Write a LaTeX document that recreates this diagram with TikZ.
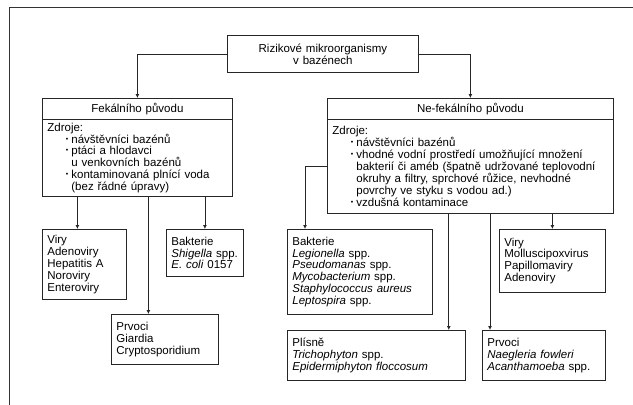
\documentclass[tikz,border=0pt]{standalone}
\usepackage{fontspec}
\setmainfont{Liberation Sans}
\usetikzlibrary{arrows.meta}

\newcommand{\bod}{\makebox[24pt][l]{\hspace{18.5pt}\raisebox{2pt}{\fontsize{7}{7}\selectfont •}}}
\newcommand{\dal}{\hspace*{24pt}}

\begin{document}
\begin{tikzpicture}[x=1pt, y=-1pt,
        font=\fontsize{11.5}{11.9}\selectfont,
        box/.style={draw=black!85, line width=0.8pt, anchor=north west,
                    align=left, inner xsep=5pt, inner ysep=0pt},
        arr/.style={draw=black!85, line width=0.8pt, -{Latex[length=4pt,width=4pt]}}]
        \useasboundingbox (0,0) rectangle (633,405);
        \draw[line width=1.5pt, black!80] (9.5,405) |- (633,7.5);

        % horni uroven
        \node[box, align=center, text width=181pt, minimum height=37pt] (rizika) at (227,35)
            {Rizikové mikroorganismy\\v bazénech};

        \node[box, align=center, text width=180pt, minimum height=21pt] (fekhlava) at (42,98)
            {Fekálního původu};
        \node[box, text width=180pt, minimum height=77pt] (fektelo) at (42,119)
            {Zdroje:\\
             \bod návštěvníci bazénů\\
             \bod ptáci a hlodavci\\
             \dal u venkovních bazénů\\
             \bod kontaminovaná plnící voda\\
             \dal (bez řádné úpravy)};

        \node[box, align=center, text width=276pt, minimum height=21pt] (nefekhlava) at (327,98)
            {Ne-fekálního původu};
        \node[box, text width=276pt, minimum height=94pt] (nefektelo) at (327,119)
            {Zdroje:\\
             \bod návštěvníci bazénů\\
             \bod vhodné vodní prostředí umožňující množení\\
             \dal bakterií či améb (špatně udržované teplovodní\\
             \dal okruhy a filtry, sprchové růžice, nevhodné\\
             \dal povrchy ve styku s vodou ad.)\\
             \bod vzdušná kontaminace};

        % fekalni
        \node[box, text width=74pt, minimum height=70pt] (viryL) at (42,229)
            {Viry\\Adenoviry\\Hepatitis A\\Noroviry\\Enteroviry};
        \node[box, text width=67pt, minimum height=47pt] (bakL) at (166,229)
            {Bakterie\\\textit{Shigella} spp.\\\textit{E. coli} 0157};
        \node[box, text width=97pt, minimum height=50pt] (prvociL) at (111,314)
            {Prvoci\\Giardia\\Cryptosporidium};

        % nefekalni
        \node[box, text width=135pt, minimum height=85pt] (bakR) at (287,229)
            {Bakterie\\\textit{Legionella} spp.\\\textit{Pseudomanas} spp.\\
             \textit{Mycobacterium} spp.\\\textit{Staphylococcus aureus}\\\textit{Leptospira} spp.};
        \node[box, text width=96pt, minimum height=63pt] (viryR) at (499,229)
            {Viry\\Molluscipoxvirus\\Papillomaviry\\Adenoviry};
        \node[box, text width=168pt, minimum height=50pt] (plisne) at (287,330)
            {Plísně\\\textit{Trichophyton} spp.\\\textit{Epidermiphyton floccosum}};
        \node[box, text width=113pt, minimum height=50pt] (prvociR) at (482,330)
            {Prvoci\\\textit{Naegleria fowleri}\\\textit{Acanthamoeba} spp.};

        \coordinate (vL) at ([xshift=-7pt]viryL.north);
        \coordinate (pL) at ([xshift=-16.5pt]prvociL.north);
        \coordinate (bR) at ([xshift=18pt]bakR.north west);
        \coordinate (plR) at ([xshift=-17pt]plisne.north east);
        \coordinate (pR) at ([xshift=8pt]prvociR.north west);

        \draw[arr] (rizika.west) -| (fekhlava.north);
        \draw[arr] (rizika.east) -| (nefekhlava.north);

        \draw[arr] (fektelo.south -| vL) -- (vL);
        \draw[arr] (fektelo.south -| pL) -- (pL);
        \draw[arr] (fektelo.south -| bakL.north) -- (bakL.north);

        \draw[arr] (nefektelo.west) -| (bR);
        \draw[arr] (nefektelo.south -| plR) -- (plR);
        \draw[arr] (nefektelo.south -| pR) -- (pR);
        \draw[arr] (nefektelo.south -| viryR.north) -- (viryR.north);
\end{tikzpicture}
\end{document}
